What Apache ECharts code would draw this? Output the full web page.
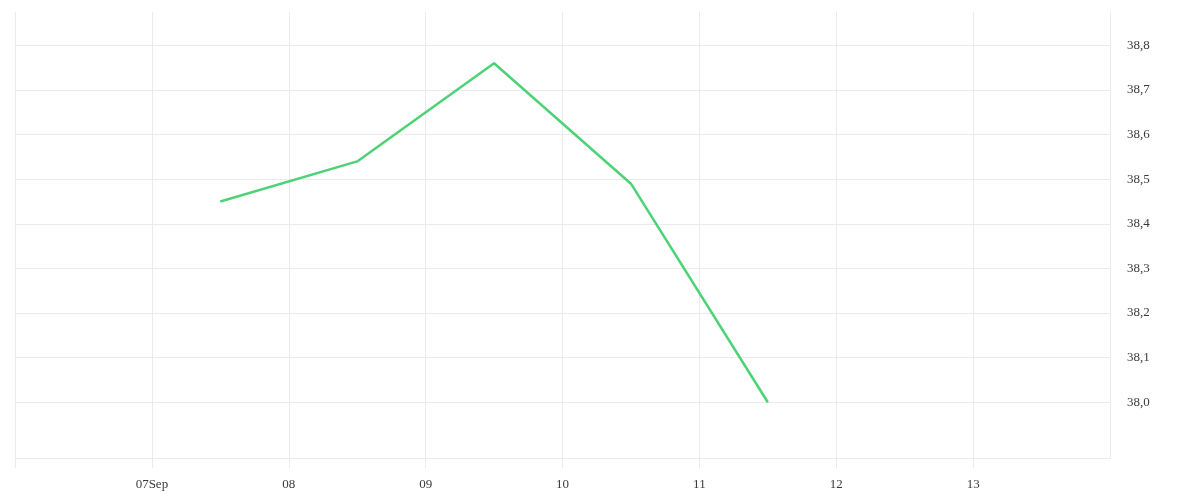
<!DOCTYPE html>
<html>
<head>
<meta charset="utf-8">
<script src="https://cdn.jsdelivr.net/npm/echarts@6/dist/echarts.min.js"></script>
<style>
	html, body { margin: 0; padding: 0; background: #fff; }
	#chart { width: 1200px; height: 500px; }
</style>
</head>
<body>
<div id="chart"></div>
<script>
	// points sit at noon of each day (Sep 2020)
	var days = [7, 8, 9, 10, 11];
	var values = [38.45, 38.54, 38.76, 38.49, 38.00];
	var yTicks = [38.0, 38.1, 38.2, 38.3, 38.4, 38.5, 38.6, 38.7, 38.8];
	var xStartDay = 6, xEndDay = 14;
	var DAY = 86400000;

	var seriesData = [];
	for (var i = 0; i < days.length; i++) {
		seriesData.push([new Date(2020, 8, days[i], 12).getTime(), values[i]]);
	}
	var gridLines = yTicks.map(function (v) { return { yAxis: v }; });

	function pad(n) { return (n < 10 ? '0' : '') + n; }

	var myChart = echarts.init(document.getElementById('chart'));
	var option = {
		animation: false,
		grid: { left: 15, right: 90, top: 12, bottom: 42 },
		xAxis: {
			type: 'time',
			min: new Date(2020, 8, xStartDay).getTime(),
			max: new Date(2020, 8, xEndDay).getTime(),
			minInterval: DAY,
			maxInterval: DAY,
			axisLine: { show: true, lineStyle: { color: '#ebebeb', width: 1 } },
			axisTick: { show: true, length: 10, lineStyle: { color: '#ebebeb' } },
			splitLine: { show: true, lineStyle: { color: '#ebebeb', width: 1 } },
			axisLabel: {
				margin: 20,
				color: '#3a3a3a',
				fontFamily: 'Liberation Serif',
				fontSize: 13,
				showMinLabel: false,
				showMaxLabel: false,
				formatter: function (val) {
					var d = new Date(val);
					if (d.getDate() == xStartDay || d.getDate() == xEndDay) return '';
					return d.getDate() == 7 ? pad(d.getDate()) + 'Sep' : pad(d.getDate());
				}
			}
		},
		yAxis: {
			type: 'value',
			position: 'right',
			min: 37.875,
			max: 38.875,
			splitNumber: 10,
			axisLine: { show: true, lineStyle: { color: '#ebebeb', width: 1 } },
			axisTick: { show: false },
			splitLine: { show: false },
			axisLabel: {
				margin: 17,
				color: '#3a3a3a',
				fontFamily: 'Liberation Serif',
				fontSize: 13,
				padding: [3, 0, 0, 0],
				showMinLabel: false,
				showMaxLabel: false,
				formatter: function (v) {
					for (var k = 0; k < yTicks.length; k++) {
						if (Math.abs(yTicks[k] - v) < 1e-6) return yTicks[k].toFixed(1).replace('.', ',');
					}
					return '';
				}
			}
		},
		series: [{
			type: 'line',
			data: seriesData,
			showSymbol: false,
			lineStyle: { color: '#4dd277', width: 2.5 },
			itemStyle: { color: '#4dd277' },
			markLine: {
				silent: true,
				symbol: 'none',
				label: { show: false },
				lineStyle: { color: '#ebebeb', width: 1, type: 'solid' },
				data: gridLines,
				z: 0
			}
		}]
	};
	myChart.setOption(option);
</script>
</body>
</html>
